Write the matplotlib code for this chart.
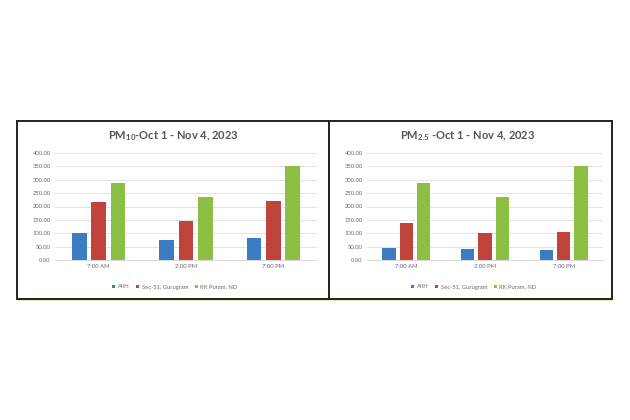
import matplotlib.pyplot as plt
from matplotlib.patches import Rectangle
import numpy as np

plt.rcParams['font.family'] = ['Lato', 'DejaVu Sans']
plt.rcParams['mathtext.fontset'] = 'custom'
plt.rcParams['mathtext.rm'] = 'Lato'
plt.rcParams['mathtext.bf'] = 'Lato:bold'

times = ["7:00 AM", "2:00 PM", "7:00 PM"]
sites = ["AIIH", "Sec-51, Gurugram", "RK Puram, ND"]
colors = ["#3c7cc3", "#c0443c", "#8cbf44"]

pm10 = {
    "AIIH": [100, 75, 82],
    "Sec-51, Gurugram": [215, 146, 219],
    "RK Puram, ND": [287, 237, 350],
}
pm25 = {
    "AIIH": [44, 41, 39],
    "Sec-51, Gurugram": [137, 100, 104],
    "RK Puram, ND": [287, 237, 350],
}

W, H = 630, 420
fig = plt.figure(figsize=(6.3, 4.2), dpi=100)


def fx(px):
    return px / W


def fy(py):
    return 1 - py / H


# panel frames
fig.patches.append(Rectangle((fx(17), fy(301)), fx(612 - 17), 2 / H,
                             transform=fig.transFigure, facecolor="#dcefb4",
                             edgecolor="none", zorder=0))
for x0, x1 in [(17, 329), (329, 612)]:
    fig.patches.append(Rectangle((fx(x0), fy(299)), fx(x1 - x0), (299 - 121) / H,
                                 transform=fig.transFigure, facecolor="white",
                                 edgecolor="#222222", linewidth=1.4, zorder=1))


def draw(ax, data, title, title_x, leg_x):
    x = np.arange(len(times))
    w = 0.17
    off = 0.222
    for i, s in enumerate(sites):
        ax.bar(x + (i - 1) * off, data[s], w, color=colors[i], label=s, zorder=3)
    ax.set_xlim(-0.5, 2.5)
    ax.set_ylim(0, 400)
    ax.set_yticks(np.arange(0, 401, 50))
    ax.set_yticklabels([f"{v:.2f}" for v in np.arange(0, 401, 50)])
    ax.set_xticks(x)
    ax.set_xticklabels(times)
    ax.tick_params(axis="both", length=0, labelsize=4.2, colors="#6a6a6a", pad=3)
    ax.grid(axis="y", color="#e3e3e3", linewidth=0.7, zorder=0)
    for sp in ax.spines.values():
        sp.set_visible(False)
    ax.spines["bottom"].set_visible(True)
    ax.spines["bottom"].set_color("#d9d9d9")
    ax.spines["bottom"].set_linewidth(0.7)
    ax.set_facecolor("none")
    fig.text(title_x, fy(136), title, ha="center", va="center",
             fontsize=8, fontweight="bold", color="#555555")
    handles, labels = ax.get_legend_handles_labels()
    fig.legend(handles, labels, loc="center", bbox_to_anchor=(leg_x, fy(287)),
               ncol=3, frameon=False, fontsize=4.2, labelcolor="#6a6a6a",
               handlelength=0.5, handleheight=0.5, handletextpad=0.4,
               columnspacing=1.2)


ax1 = fig.add_axes([fx(55), fy(260), fx(317 - 55), (260 - 153) / H])
ax1.set_zorder(2)
draw(ax1, pm10, r"PM$_{\mathbf{10}}$-Oct 1 - Nov 4, 2023", fx(173), fx(175))

ax2 = fig.add_axes([fx(367), fy(260), fx(603 - 367), (260 - 153) / H])
ax2.set_zorder(2)
draw(ax2, pm25, r"PM$_{\mathbf{2.5}}$ -Oct 1 - Nov 4, 2023", fx(468), fx(474))

fig.savefig("out.png", dpi=100)
